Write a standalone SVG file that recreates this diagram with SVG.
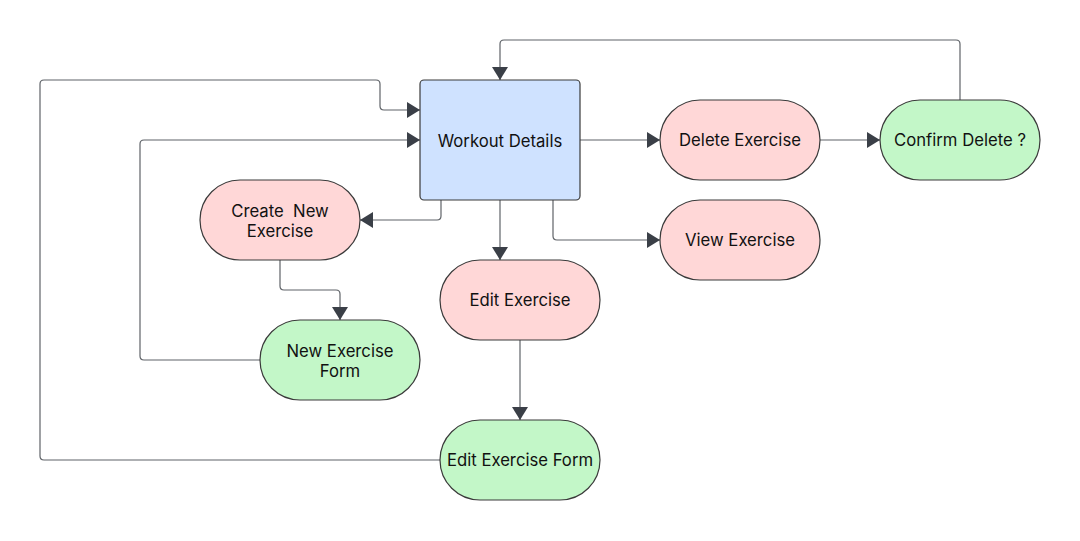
<svg xmlns="http://www.w3.org/2000/svg" width="1080" height="541" viewBox="0 0 1080 541">
<style>
.c{fill:none;stroke:#5f6368;stroke-width:1.2}
.n{stroke:#3a3a3a;stroke-width:1.2}
.pink{fill:#ffd7d7}
.green{fill:#c3f7c8}
.blue{fill:#cfe2ff}
text{font-family:Inter,"Liberation Sans",sans-serif;font-size:16.7px;fill:#111;text-anchor:middle;white-space:pre}
</style>
<defs>
<marker id="ah" markerUnits="userSpaceOnUse" markerWidth="14" markerHeight="16" refX="13" refY="8" orient="auto">
<path d="M0,0 L13,8 L0,16 z" fill="#3a3f47"/>
</marker>
</defs>
<rect width="1080" height="541" fill="#ffffff"/>
<g id="connectors">
<path class="c" d="M960,100 V44 Q960,40 956,40 H504 Q500,40 500,44 V80" marker-end="url(#ah)"/>
<path class="c" d="M440,460 H44 Q40,460 40,456 V84 Q40,80 44,80 H376 Q380,80 380,84 V106 Q380,110 384,110 H420" marker-end="url(#ah)"/>
<path class="c" d="M260,360 H144 Q140,360 140,356 V144 Q140,140 144,140 H420" marker-end="url(#ah)"/>
<path class="c" d="M441,200 V216 Q441,220 437,220 H360" marker-end="url(#ah)"/>
<path class="c" d="M500,200 V260" marker-end="url(#ah)"/>
<path class="c" d="M553,200 V236 Q553,240 557,240 H660" marker-end="url(#ah)"/>
<path class="c" d="M580,140 H660" marker-end="url(#ah)"/>
<path class="c" d="M820,140 H880" marker-end="url(#ah)"/>
<path class="c" d="M280,260 V286 Q280,290 284,290 H336 Q340,290 340,294 V320" marker-end="url(#ah)"/>
<path class="c" d="M520,340 V420" marker-end="url(#ah)"/>
</g>
<g id="workout-details">
<rect class="n blue" x="420" y="80" width="160" height="120" rx="4"/>
<text x="500" y="147">Workout Details</text>
</g>
<g id="delete-exercise">
<rect class="n pink" x="660" y="100" width="160" height="80" rx="40"/>
<text x="740" y="146">Delete Exercise</text>
</g>
<g id="confirm-delete">
<rect class="n green" x="880" y="100" width="160" height="80" rx="40"/>
<text x="960" y="146">Confirm Delete ?</text>
</g>
<g id="view-exercise">
<rect class="n pink" x="660" y="200" width="160" height="80" rx="40"/>
<text x="740" y="246">View Exercise</text>
</g>
<g id="create-new-exercise">
<rect class="n pink" x="200" y="180" width="160" height="80" rx="40"/>
<text x="280" y="217">Create  New</text>
<text x="280" y="237">Exercise</text>
</g>
<g id="new-exercise-form">
<rect class="n green" x="260" y="320" width="160" height="80" rx="40"/>
<text x="340" y="357">New Exercise</text>
<text x="340" y="377">Form</text>
</g>
<g id="edit-exercise">
<rect class="n pink" x="440" y="260" width="160" height="80" rx="40"/>
<text x="520" y="306">Edit Exercise</text>
</g>
<g id="edit-exercise-form">
<rect class="n green" x="440" y="420" width="160" height="80" rx="40"/>
<text x="520" y="466">Edit Exercise Form</text>
</g>
</svg>
